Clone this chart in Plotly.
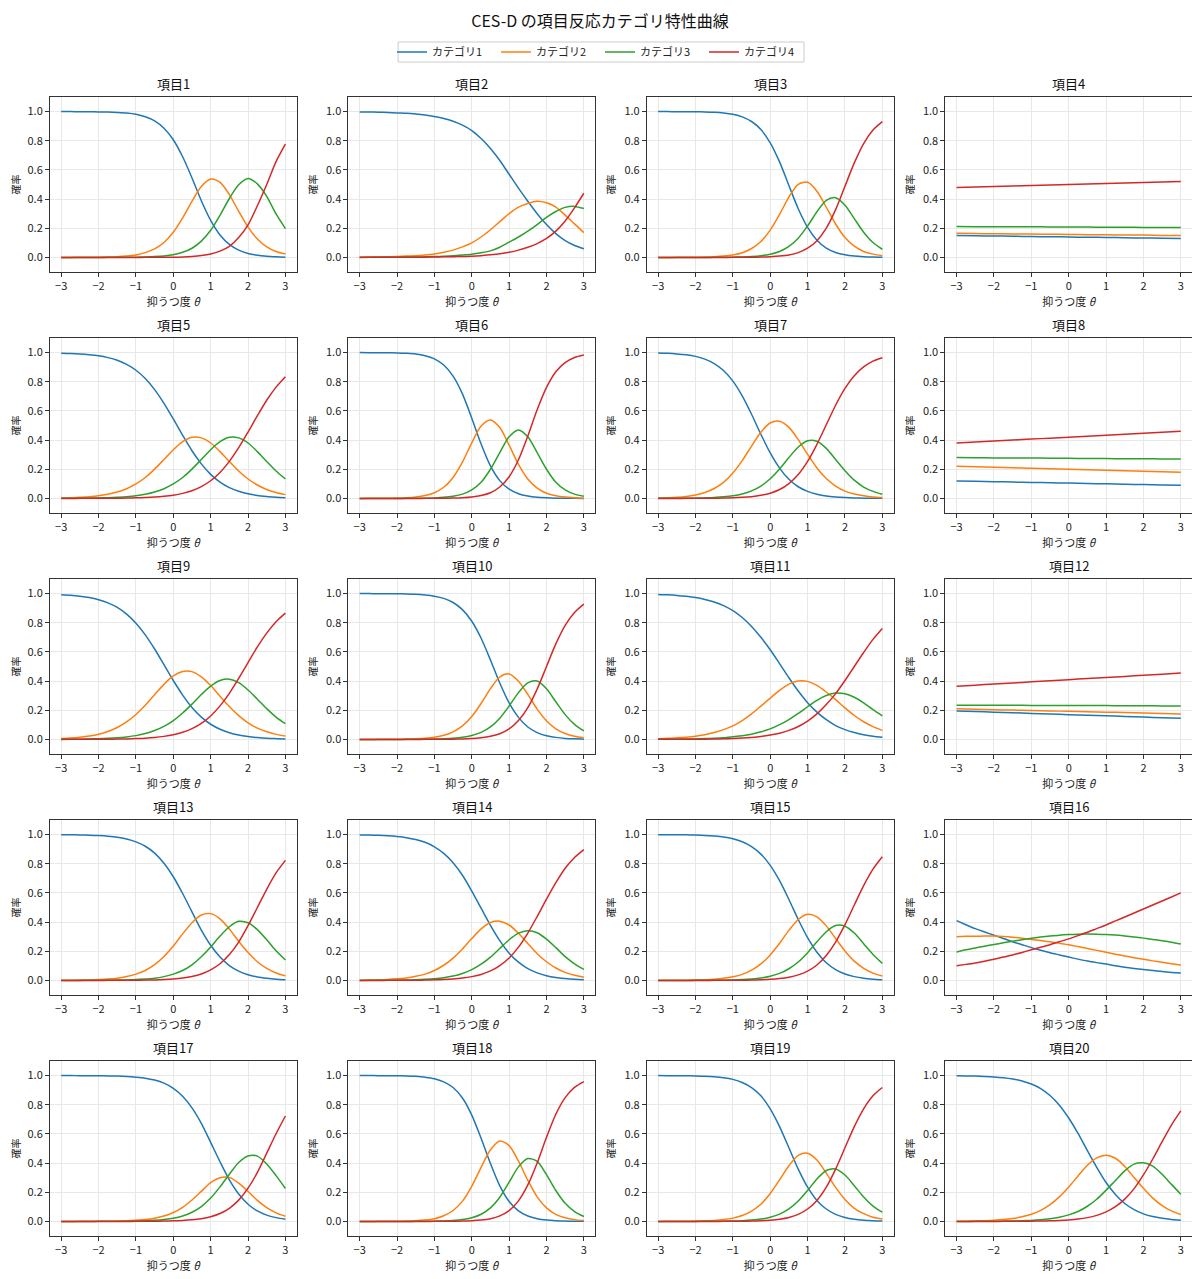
import plotly.graph_objects as go
from plotly.subplots import make_subplots

# theta grids: fine one for the curved panels, coarse one for the nearly flat ones
theta = [-3.0, -2.75, -2.5, -2.25, -2.0, -1.75, -1.5, -1.25, -1.0, -0.75, -0.5, -0.25,
         0.0, 0.25, 0.5, 0.75, 1.0, 1.25, 1.5, 1.75, 2.0, 2.25, 2.5, 2.75, 3.0]
theta_coarse = [-3.0, -2.5, -2.0, -1.5, -1.0, -0.5, 0.0, 0.5, 1.0, 1.5, 2.0, 2.5, 3.0]

categories = ["カテゴリ1", "カテゴリ2", "カテゴリ3", "カテゴリ4"]
colors = ["#1f77b4", "#ff7f0e", "#2ca02c", "#d62728"]

# one row per category (1..4), probabilities
item01 = [
    [.9999, .9998, .9995, .9991, .998, .997, .994, .9895, .981, .964, .936, .886, .807, .690, .545, .389, .254, .154, .089, .050, .027, .015, .008, .0043, .002],
    [.0001, .0002, .0005, .0008, .0015, .0027, .005, .0095, .017, .0327, .058, .1025, .172, .271, .385, .486, .537, .514, .431, .316, .208, .127, .073, .041, .023],
    [0, 0, 0, .0001, .0001, .0003, .0005, .0009, .0016, .003, .0056, .0105, .019, .035, .063, .112, .186, .289, .404, .498, .542, .504, .419, .298, .198],
    [0, 0, 0, 0, 0, 0, 0, .0001, .0002, .0003, .0006, .001, .002, .0037, .007, .0127, .023, .043, .076, .136, .223, .354, .5, .657, .777],
]
item02 = [
    [.998, .997, .996, .994, .991, .988, .983, .976, .966, .953, .934, .907, .87, .815, .747, .665, .57, .475, .385, .30, .225, .163, .115, .082, .06],
    [.0015, .002, .003, .0045, .006, .009, .012, .017, .024, .035, .05, .072, .10, .14, .19, .245, .30, .345, .37, .385, .375, .345, .29, .23, .17],
    [.0005, .0007, .001, .0015, .002, .0025, .003, .0045, .006, .008, .011, .016, .022, .032, .045, .07, .105, .14, .18, .225, .275, .315, .343, .35, .335],
    [.0002, .0003, .0004, .0006, .0008, .001, .0015, .002, .003, .004, .005, .0065, .008, .012, .018, .025, .035, .05, .07, .095, .13, .18, .25, .34, .44],
]
item03 = [
    [.9999, .9998, .9996, .9993, .9986, .9974, .995, .9901, .981, .964, .932, .877, .786, .655, .493, .334, .206, .118, .064, .034, .018, .0094, .005, .0025, .001],
    [.0001, .0002, .0004, .0007, .0013, .0023, .0046, .0089, .017, .0323, .061, .109, .187, .295, .414, .501, .515, .454, .344, .229, .136, .077, .041, .0225, .012],
    [0, 0, 0, 0, 0, .0002, .0004, .0008, .0016, .0031, .0059, .0114, .022, .041, .076, .132, .216, .313, .391, .409, .358, .266, .173, .102, .056],
    [0, 0, 0, 0, .0001, .0001, .0001, .0002, .0003, .0006, .0013, .0024, .0047, .0091, .017, .033, .063, .115, .201, .328, .488, .648, .781, .873, .931],
]
item04 = [
    [.150, .148, .147, .145, .143, .142, .140, .138, .137, .135, .133, .132, .130],
    [.165, .164, .162, .161, .160, .159, .158, .156, .155, .154, .153, .151, .150],
    [.212, .211, .211, .210, .210, .209, .208, .208, .207, .207, .206, .206, .205],
    [.480, .483, .487, .490, .493, .497, .500, .503, .507, .510, .513, .517, .520],
]
item05 = [
    [.996, .9941, .991, .9857, .978, .9655, .947, .919, .879, .822, .746, .652, .545, .433, .327, .237, .165, .112, .074, .049, .032, .020, .013, .0084, .005],
    [.003, .0049, .008, .0119, .018, .0286, .044, .0667, .099, .1435, .201, .267, .334, .389, .419, .415, .38, .321, .253, .188, .133, .092, .061, .0406, .026],
    [.0005, .0008, .0012, .002, .003, .0049, .008, .0119, .018, .0286, .044, .0667, .099, .1435, .201, .267, .334, .389, .419, .415, .38, .321, .253, .188, .133],
    [.0001, .0002, .0003, .0004, .0006, .001, .0015, .0024, .004, .0059, .009, .0143, .022, .0345, .053, .081, .121, .178, .254, .348, .455, .567, .673, .763, .835],
]
item06 = [
    [1.0, .9997, .9994, .9988, .9975, .9949, .99, .9787, .957, .915, .839, .717, .55, .373, .223, .122, .063, .032, .016, .0076, .004, .0018, .001, .0004, .0002],
    [.0001, .0003, .0005, .0011, .0023, .0046, .0096, .0194, .039, .0767, .144, .249, .381, .496, .538, .486, .365, .233, .133, .0704, .035, .018, .009, .0042, .002],
    [0, 0, .0001, .0001, .0002, .0004, .0008, .0016, .0035, .0072, .015, .0294, .059, .111, .2, .314, .423, .470, .423, .314, .2, .111, .059, .0294, .015],
    [0, 0, 0, 0, 0, .0001, .0001, .0003, .0005, .0011, .0023, .0046, .0096, .020, .039, .078, .149, .265, .428, .608, .761, .869, .931, .966, .983],
]
item07 = [
    [.997, .9948, .991, .9846, .974, .955, .925, .877, .804, .703, .577, .44, .312, .208, .131, .080, .048, .028, .016, .0096, .0055, .0032, .002, .0011, .0006],
    [.003, .0047, .008, .0139, .024, .0406, .068, .11, .174, .259, .359, .454, .517, .529, .487, .403, .302, .209, .136, .0844, .05, .0298, .018, .0099, .006],
    [.0003, .0004, .0006, .0012, .002, .0036, .006, .0106, .018, .0308, .052, .0848, .135, .202, .28, .353, .396, .392, .343, .267, .19, .125, .078, .048, .028],
    [0, .0001, .0002, .0003, .0005, .0008, .0014, .0024, .004, .0072, .012, .0212, .036, .061, .102, .164, .254, .371, .505, .639, .754, .842, .902, .941, .965],
]
item08 = [
    [.120, .117, .115, .112, .110, .107, .105, .102, .100, .097, .095, .092, .090],
    [.220, .217, .213, .210, .207, .203, .200, .197, .193, .190, .187, .183, .180],
    [.280, .279, .278, .278, .277, .276, .275, .274, .273, .272, .272, .271, .270],
    [.380, .387, .393, .400, .407, .413, .420, .427, .433, .440, .447, .453, .460],
]
item09 = [
    [.9925, .9885, .982, .9726, .958, .9365, .905, .859, .797, .717, .62, .5125, .404, .304, .219, .153, .104, .070, .046, .030, .02, .013, .008, .0053, .0034],
    [.0065, .010, .0156, .0237, .036, .0547, .082, .120, .171, .234, .306, .3775, .435, .466, .465, .429, .369, .296, .225, .163, .114, .077, .052, .0347, .023],
    [.0008, .0012, .002, .0031, .0047, .0073, .011, .0171, .026, .040, .061, .0892, .129, .181, .242, .308, .366, .404, .413, .389, .339, .276, .211, .153, .108],
    [.0002, .0003, .0004, .0006, .001, .0015, .0024, .0037, .006, .0088, .0135, .0208, .032, .0488, .074, .110, .161, .230, .316, .418, .527, .634, .729, .807, .866],
]
item10 = [
    [.9999, .9998, .9996, .9992, .9986, .9973, .995, .9904, .982, .967, .939, .890, .81, .694, .545, .387, .25, .151, .085, .047, .025, .014, .007, .0038, .002],
    [.0001, .0002, .0003, .0007, .0012, .0023, .0043, .0082, .015, .028, .052, .0925, .157, .246, .348, .428, .449, .399, .309, .208, .128, .073, .041, .022, .012],
    [0, 0, .0001, .0001, .0002, .0003, .0007, .0011, .0021, .0041, .0076, .0143, .027, .0486, .086, .146, .229, .321, .388, .400, .347, .258, .17, .103, .058],
    [0, 0, 0, 0, 0, .0001, .0001, .0003, .0005, .0009, .0017, .0032, .006, .0114, .021, .039, .072, .129, .218, .345, .5, .655, .782, .871, .928],
]
item11 = [
    [.994, .9912, .987, .9811, .973, .960, .942, .917, .883, .836, .775, .70, .615, .52, .423, .332, .252, .187, .135, .095, .067, .047, .032, .022, .015],
    [.005, .0072, .0106, .0154, .022, .0325, .047, .067, .093, .1295, .175, .228, .283, .336, .379, .401, .398, .370, .325, .273, .216, .164, .121, .088, .062],
    [.0008, .0012, .0018, .0026, .0037, .0055, .008, .0116, .018, .025, .036, .052, .072, .101, .136, .178, .224, .268, .301, .318, .313, .289, .251, .204, .162],
    [.0003, .0004, .0006, .0009, .0014, .002, .003, .0044, .0064, .0095, .014, .020, .03, .043, .062, .0887, .126, .175, .239, .314, .404, .5, .596, .686, .761],
]
item12 = [
    [.195, .191, .187, .183, .178, .174, .170, .166, .162, .158, .153, .149, .145],
    [.210, .207, .204, .201, .198, .195, .193, .190, .187, .184, .181, .178, .175],
    [.235, .235, .234, .234, .233, .233, .233, .232, .232, .231, .231, .230, .230],
    [.365, .372, .380, .387, .395, .402, .410, .417, .425, .432, .440, .447, .455],
]
item13 = [
    [.9991, .9986, .9976, .996, .9933, .989, .982, .9695, .95, .920, .873, .804, .711, .596, .47, .345, .241, .160, .102, .064, .039, .024, .015, .0087, .005],
    [.0008, .0012, .0021, .0034, .0058, .0095, .015, .0262, .043, .0682, .108, .164, .236, .319, .396, .449, .458, .422, .353, .268, .191, .128, .082, .051, .032],
    [.0001, .0002, .0002, .0005, .0007, .0012, .0021, .0035, .0057, .0097, .015, .026, .043, .068, .107, .162, .229, .304, .368, .405, .395, .348, .278, .203, .14],
    [0, 0, .0001, .0001, .0002, .0003, .0005, .0008, .0013, .0021, .0036, .0059, .0099, .0163, .027, .044, .072, .114, .177, .263, .375, .5, .625, .737, .823],
]
item14 = [
    [.998, .9969, .995, .992, .987, .979, .966, .947, .916, .871, .807, .721, .613, .495, .378, .273, .187, .125, .081, .052, .032, .020, .013, .0078, .005],
    [.0016, .0026, .0041, .0066, .011, .0172, .028, .0431, .068, .104, .153, .215, .287, .353, .397, .406, .38, .323, .253, .183, .128, .085, .055, .0352, .022],
    [.0002, .0004, .0007, .0011, .0017, .0029, .0045, .0075, .012, .0188, .03, .048, .074, .111, .16, .219, .279, .324, .341, .327, .283, .225, .163, .114, .076],
    [.0001, .0001, .0002, .0003, .0006, .0009, .0015, .0024, .0038, .0062, .01, .016, .026, .041, .065, .102, .154, .228, .325, .438, .557, .670, .769, .843, .897],
]
item15 = [
    [.9996, .9994, .9989, .9981, .9967, .9943, .99, .9832, .971, .951, .918, .866, .789, .684, .555, .418, .293, .193, .121, .074, .044, .026, .015, .0087, .005],
    [.0003, .0005, .0009, .0016, .0028, .0049, .0084, .0144, .025, .0416, .07, .113, .175, .255, .343, .418, .453, .436, .374, .287, .202, .132, .083, .050, .03],
    [.0001, .0001, .0002, .0002, .0004, .0006, .0011, .0019, .0034, .0057, .0099, .0168, .029, .048, .08, .126, .19, .265, .334, .376, .372, .325, .252, .178, .117],
    [0, 0, 0, .0001, .0001, .0002, .0003, .0005, .0008, .0015, .0025, .0044, .0075, .013, .022, .038, .064, .106, .171, .263, .382, .517, .65, .763, .848],
]
item16 = [
    [.41, .382, .355, .332, .31, .287, .265, .245, .225, .207, .19, .175, .16, .146, .133, .122, .112, .10, .09, .082, .075, .068, .061, .055, .05],
    [.30, .302, .303, .304, .304, .301, .296, .289, .281, .273, .265, .255, .245, .232, .219, .206, .193, .18, .168, .156, .145, .134, .124, .114, .105],
    [.195, .21, .223, .235, .246, .258, .269, .279, .289, .297, .304, .31, .314, .317, .318, .317, .315, .311, .305, .298, .29, .281, .272, .262, .25],
    [.10, .11, .12, .132, .145, .16, .175, .192, .21, .227, .245, .265, .285, .307, .33, .355, .38, .408, .435, .462, .49, .517, .545, .572, .60],
]
item17 = [
    [.9999, .9998, .9996, .9993, .9988, .9979, .9964, .9938, .989, .982, .969, .948, .913, .859, .779, .673, .542, .409, .285, .188, .118, .072, .043, .026, .015],
    [.0001, .0001, .0003, .0005, .0009, .0015, .0026, .0044, .0077, .0128, .022, .0366, .061, .097, .147, .206, .266, .300, .302, .262, .205, .144, .095, .059, .036],
    [0, .0001, .0001, .0002, .0003, .0005, .0009, .0016, .0026, .0045, .0076, .0132, .022, .0376, .063, .102, .16, .237, .323, .404, .449, .448, .394, .314, .226],
    [0, 0, 0, 0, 0, .0001, .0001, .0002, .0004, .0007, .0013, .0022, .0038, .0064, .011, .0189, .032, .054, .09, .146, .228, .336, .468, .601, .723],
]
item18 = [
    [.9999, .9998, .9997, .9994, .9987, .9974, .9947, .9893, .979, .957, .918, .846, .729, .570, .397, .244, .137, .072, .037, .019, .0093, .0046, .0023, .0011, .0006],
    [.0001, .0002, .0003, .0005, .0012, .0024, .0049, .0098, .019, .0393, .075, .139, .241, .371, .491, .552, .52, .413, .282, .168, .093, .0484, .025, .0123, .006],
    [0, 0, 0, .0001, .0001, .0002, .0003, .0008, .0015, .0031, .0062, .0126, .025, .0494, .093, .166, .269, .374, .431, .412, .321, .212, .124, .0676, .034],
    [0, 0, 0, 0, 0, 0, .0001, .0001, .0003, .0006, .0012, .0023, .0048, .0096, .019, .038, .074, .141, .25, .401, .577, .735, .849, .919, .959],
]
item19 = [
    [.9998, .9996, .9993, .9987, .9976, .9956, .992, .9855, .974, .953, .918, .861, .772, .650, .505, .359, .235, .144, .085, .048, .027, .015, .0083, .0046, .0025],
    [.0002, .0004, .0006, .0011, .0021, .0038, .007, .0126, .0225, .0403, .071, .118, .191, .285, .382, .453, .468, .421, .331, .233, .15, .090, .053, .029, .0165],
    [0, 0, .0001, .0002, .0002, .0005, .0008, .0015, .0027, .0049, .0089, .016, .029, .050, .086, .140, .212, .291, .349, .360, .318, .245, .167, .105, .063],
    [0, 0, 0, 0, .0001, .0001, .0002, .0004, .0008, .0014, .0025, .0046, .0083, .0151, .027, .048, .085, .144, .235, .359, .505, .650, .772, .861, .918],
]
item20 = [
    [.9986, .9978, .9965, .9943, .991, .9855, .977, .9634, .942, .911, .863, .797, .709, .603, .485, .371, .267, .185, .123, .081, .052, .033, .021, .013, .008],
    [.0012, .0019, .003, .0049, .0077, .0124, .0197, .0313, .049, .0753, .115, .168, .236, .312, .385, .436, .454, .433, .377, .301, .227, .160, .109, .072, .047],
    [.0002, .0002, .0004, .0007, .0011, .0017, .0027, .0043, .007, .0112, .018, .0282, .045, .068, .104, .152, .214, .281, .347, .393, .402, .379, .323, .254, .187],
    [0, .0001, .0001, .0001, .0002, .0004, .0006, .001, .0016, .0025, .004, .0064, .0104, .0165, .026, .0415, .065, .101, .153, .225, .319, .428, .547, .661, .758],
]

items = [
    item01, item02, item03, item04, item05, item06, item07, item08, item09, item10,
    item11, item12, item13, item14, item15, item16, item17, item18, item19, item20,
]
item_titles = [f"項目{i + 1}" for i in range(len(items))]

x_ticks = [-3, -2, -1, 0, 1, 2, 3]
x_ticktext = ["−3", "−2", "−1", "0", "1", "2", "3"]
y_ticks = [0.0, 0.2, 0.4, 0.6, 0.8, 1.0]

FONT = "Noto Sans CJK JP, Noto Sans, sans-serif"
# page has an 8px body margin, so the figure is 8px smaller and shifted
OFF = 8
W, H = 1200 - OFF, 1279 - OFF
ML, MR, MT, MB = 48 - OFF, 7, 97 - OFF, 43
plot_w = W - ML - MR
plot_h = H - MT - MB


def px_to_paper_x(px):
    return (px - OFF - ML) / plot_w


def px_to_paper_y(py):
    return 1 + (MT - (py - OFF)) / plot_h


fig = make_subplots(
    rows=5,
    cols=4,
    subplot_titles=item_titles,
    horizontal_spacing=52 / plot_w,
    vertical_spacing=66 / plot_h,
)

for idx, probs in enumerate(items):
    row = idx // 4 + 1
    col = idx % 4 + 1
    xs = theta if len(probs[0]) == len(theta) else theta_coarse
    for k, name in enumerate(categories):
        assert len(probs[k]) == len(xs), (idx + 1, k + 1, len(probs[k]))
        fig.add_trace(
            go.Scatter(
                x=xs,
                y=probs[k],
                mode="lines",
                name=name,
                legendgroup=name,
                showlegend=(idx == 0),
                line=dict(color=colors[k], width=1.5, shape="spline", smoothing=0.8),
            ),
            row=row,
            col=col,
        )

axis_style = dict(
    showgrid=True,
    gridcolor="#e8e8e8",
    gridwidth=0.8,
    zeroline=False,
    showline=True,
    mirror=True,
    linecolor="#333333",
    linewidth=1,
    ticks="outside",
    ticklen=4,
    tickcolor="#333333",
    tickfont=dict(size=11, color="#222222"),
)

fig.update_xaxes(
    range=[-3.3, 3.3],
    tickvals=x_ticks,
    ticktext=x_ticktext,
    title_text="抑うつ度 <i>θ</i>",
    title_font=dict(size=11, color="#222222"),
    title_standoff=4,
    **axis_style,
)
fig.update_yaxes(
    range=[-0.1, 1.1],
    tickvals=y_ticks,
    tickformat=".1f",
    title_text="確率",
    title_font=dict(size=10, color="#222222"),
    title_standoff=6,
    **axis_style,
)

for ann in fig.layout.annotations:
    ann.font = dict(size=13, color="#111111", family=FONT)
    ann.yshift = 2

# legend frame drawn as a shape so its size matches the reference
fig.add_shape(
    type="rect",
    xref="paper",
    yref="paper",
    x0=px_to_paper_x(397),
    x1=px_to_paper_x(804),
    y0=px_to_paper_y(62),
    y1=px_to_paper_y(42),
    line=dict(color="#cccccc", width=1),
    fillcolor="white",
    layer="below",
)

fig.update_layout(
    width=W,
    height=H,
    margin=dict(l=ML, r=MR, t=MT, b=MB),
    paper_bgcolor="white",
    plot_bgcolor="white",
    font=dict(family=FONT, size=11, color="#222222"),
    title=dict(
        text="CES-D の項目反応カテゴリ特性曲線",
        x=(600 - OFF) / W,
        xref="container",
        xanchor="center",
        y=1 - 13 / H,
        yref="container",
        yanchor="middle",
        font=dict(size=16, color="#111111"),
    ),
    legend=dict(
        orientation="h",
        x=(600 - OFF) / W,
        xref="container",
        xanchor="center",
        y=1 - (52 - OFF) / H,
        yref="container",
        yanchor="middle",
        borderwidth=0,
        bgcolor="rgba(0,0,0,0)",
        font=dict(size=11),
        itemwidth=30,
        entrywidth=59,
    ),
)

fig.write_html("out.html")
